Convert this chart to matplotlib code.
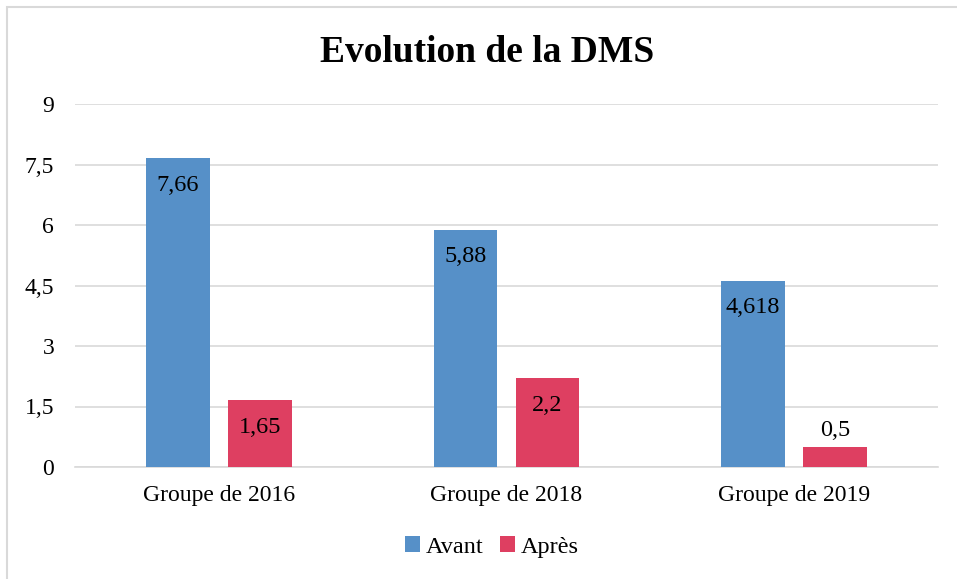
import numpy as np
import matplotlib.pyplot as plt
from matplotlib.patches import Rectangle

groupes = ['Groupe de 2016', 'Groupe de 2018', 'Groupe de 2019']
avant = [7.66, 5.88, 4.618]
apres = [1.65, 2.2, 0.5]
labels_avant = ['7,66', '5,88', '4,618']
labels_apres = ['1,65', '2,2', '0,5']
yticks = [0, 1.5, 3, 4.5, 6, 7.5, 9]
ytick_labels = ['0', '1,5', '3', '4,5', '6', '7,5', '9']

plt.rcParams['font.family'] = ['Liberation Serif', 'DejaVu Serif']

bleu = '#5690C8'
rouge = '#DE3F61'

fig = plt.figure(figsize=(9.57, 5.79), dpi=100)
ax = fig.add_axes([75/957, 1 - 467/579, (938-75)/957, (467-104)/579])

x = np.arange(len(groupes))
w = 0.222
off = 0.1425
ax.bar(x - off, avant, w, color=bleu, label='Avant', zorder=3)
ax.bar(x + off, apres, w, color=rouge, label='Après', zorder=3)

# etiquettes dans le haut des barres (sauf la petite barre)
for i in range(len(groupes)):
    ax.annotate(labels_avant[i], (x[i] - off, avant[i]), xytext=(0, -27),
                textcoords='offset pixels', ha='center', va='center', fontsize=17.5)
    if apres[i] > 1:
        ax.annotate(labels_apres[i], (x[i] + off, apres[i]), xytext=(0, -27),
                    textcoords='offset pixels', ha='center', va='center', fontsize=17.5)
    else:
        ax.annotate(labels_apres[i], (x[i] + off, apres[i]), xytext=(0, 16),
                    textcoords='offset pixels', ha='center', va='center', fontsize=17.5)

ax.set_xlim(-0.5, 2.5)
ax.set_ylim(0, 9)
ax.set_yticks(yticks)
ax.set_yticklabels(ytick_labels, fontsize=17)
ax.set_xticks(x)
ax.set_xticklabels(groupes, fontsize=17)
ax.tick_params(axis='both', length=0)
ax.tick_params(axis='x', pad=13)
ax.tick_params(axis='y', pad=15)
ax.grid(axis='y', color='#D9D9D9', linewidth=1.2, zorder=0)
for s in ['top', 'right', 'left']:
    ax.spines[s].set_visible(False)
ax.spines['bottom'].set_color('#D9D9D9')
ax.spines['bottom'].set_linewidth(1.2)

fig.text(487/957, 1 - 52/579, 'Evolution de la DMS', ha='center', va='center',
         fontsize=27, fontweight='bold')

fig.legend(loc='center', bbox_to_anchor=(492/957, 1 - 547/579), ncol=2, frameon=False,
           fontsize=17.5, handlelength=0.6, handleheight=0.6, handletextpad=0.25,
           columnspacing=0.7)

# cadre du graphique
fig.patches.append(Rectangle((7/957, -0.1), 1.2, 1 - 7/579 + 0.1, transform=fig.transFigure,
                             fill=False, edgecolor='#D9D9D9', linewidth=1.5))

fig.savefig('out.png', dpi=100)
